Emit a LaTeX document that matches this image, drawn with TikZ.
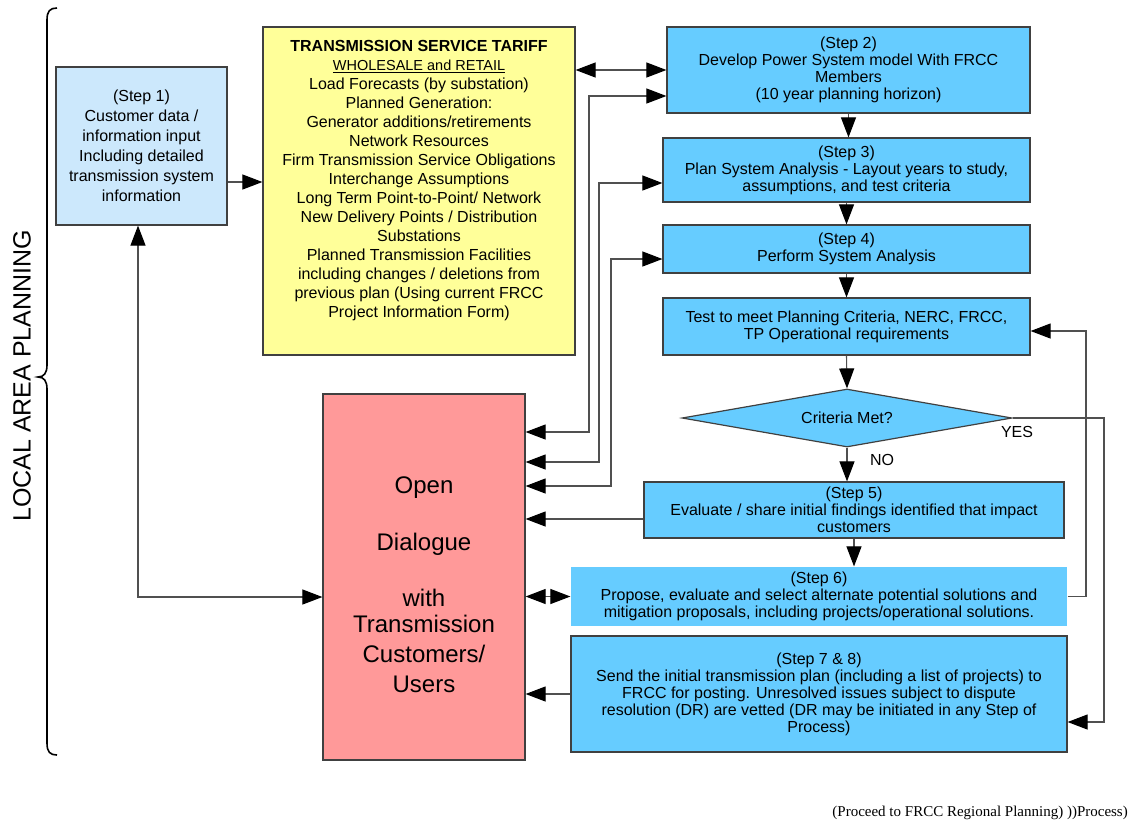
\documentclass[tikz,border=0pt]{standalone}
\usepackage{fontspec}
\setmainfont{Liberation Sans}
\newfontfamily\notefont{Liberation Serif}
\usetikzlibrary{arrows.meta}
\usetikzlibrary{shapes.geometric, arrows}
\definecolor{inputblue}{RGB}{204,232,252}
\definecolor{tariffyellow}{RGB}{255,255,153}
\definecolor{stepblue}{RGB}{102,204,255}
\definecolor{talkred}{RGB}{255,153,153}
\definecolor{edgegrey}{RGB}{64,64,64}
\definecolor{linegrey}{RGB}{80,80,80}
\tikzstyle{inputbox} = [rectangle, minimum width=171pt, minimum height=158pt, inner sep=0pt, align=center, draw=edgegrey, line width=1.2pt, fill=inputblue, font=\fontsize{16}{20}\selectfont]
\tikzstyle{tariffbox} = [rectangle, minimum width=312pt, minimum height=328pt, inner sep=0pt, align=center, draw=edgegrey, line width=1.2pt, fill=tariffyellow, font=\fontsize{16}{19}\selectfont]
\tikzstyle{process} = [rectangle, inner sep=0pt, align=center, draw=edgegrey, line width=1.2pt, fill=stepblue, font=\fontsize{16}{17}\selectfont]
\tikzstyle{decision} = [diamond, aspect=5.7, minimum width=330pt, minimum height=58pt, inner sep=0pt, draw=edgegrey, line width=1.2pt, fill=stepblue, font=\fontsize{16}{17}\selectfont]
\tikzstyle{talkbox} = [rectangle, minimum width=202pt, minimum height=366pt, inner sep=0pt, align=center, draw=edgegrey, line width=1.2pt, fill=talkred, font=\fontsize{24}{30}\selectfont]
\tikzstyle{tag} = [inner sep=0pt, font=\fontsize{16}{17}\selectfont]
\tikzstyle{arrow} = [line width=1.1pt, draw=linegrey, ->, >={Triangle[length=20pt,width=15pt,color=black]}]
\tikzstyle{twoway} = [arrow, <->]

\begin{document}
\begin{tikzpicture}[x=1pt, y=-1pt]
\useasboundingbox (0,0) rectangle (1132,823);
\draw[line width=1.6pt] (57,8) .. controls (50,8) and (47,11) .. (47,20) -- (47,365) .. controls (47,373) and (44,377) .. (38,377) .. controls (44,377) and (47,381) .. (47,389) -- (47,743) .. controls (47,752) and (50,755) .. (57,755);
\node (area) [rotate=90, inner sep=0pt, font=\fontsize{25}{30}\selectfont] at (22,376) {LOCAL AREA PLANNING};

\node (step1) [inputbox] at (141.5,146) {(Step 1)\\Customer data /\\information input\\Including detailed\\transmission system\\information};
\node (tariff) [tariffbox] at (419,191) {\textbf{TRANSMISSION SERVICE TARIFF}\\{\fontsize{14.5}{19}\selectfont\underline{WHOLESALE and RETAIL}}\\Load Forecasts (by substation)\\Planned Generation:\\Generator additions/retirements\\Network Resources\\Firm Transmission Service Obligations\\Interchange Assumptions\\Long Term Point-to-Point/ Network\\New Delivery Points / Distribution\\Substations\\Planned Transmission Facilities\\including changes / deletions from\\previous plan (Using current FRCC\\Project Information Form)\\[5pt]\mbox{}};
\node (step2) [process, minimum width=363pt, minimum height=86pt] at (848.5,70) {(Step 2)\\Develop Power System model With FRCC\\Members\\(10 year planning horizon)};
\node (step3) [process, minimum width=367pt, minimum height=64pt] at (846.5,170) {(Step 3)\\Plan System Analysis - Layout years to study,\\assumptions, and test criteria};
\node (step4) [process, minimum width=367pt, minimum height=48pt] at (846.5,249) {(Step 4)\\Perform System Analysis};
\node (test) [process, minimum width=367pt, minimum height=57pt] at (846.5,326.5) {Test to meet Planning Criteria, NERC, FRCC,\\TP Operational requirements};
\node (crit) [decision] at (847,418) {Criteria Met?};
\node (step5) [process, minimum width=420pt, minimum height=56pt] at (854,510) {(Step 5)\\Evaluate / share initial findings identified that impact\\customers};
\node (step6) [process, draw=none, minimum width=496pt, minimum height=59pt] at (819,596.5) {(Step 6)\\Propose, evaluate and select alternate potential solutions and\\mitigation proposals, including projects/operational solutions.};
\node (step7) [process, minimum width=496pt, minimum height=116pt] at (819,694) {(Step 7 \& 8)\\Send the initial transmission plan (including a list of projects) to\\FRCC for posting.  Unresolved issues subject to dispute\\resolution (DR) are vetted (DR may be initiated in any Step of\\Process)};
\node (talk) [talkbox] at (424,577) {\mbox{}\\[2pt]Open\\[27pt]Dialogue\\[26pt]with\\[-4pt]Transmission\\Customers/\\Users};
\node (yes) [tag] at (1017,432) {YES};
\node (no) [tag] at (882,460) {NO};
\node (next) [anchor=east, inner sep=0pt, font=\notefont\fontsize{15}{17}\selectfont] at (1128,813) {(Proceed to FRCC Regional Planning) ))Process)};

\draw [arrow] (step1.east |- 0,182) -- (tariff.west |- 0,182);
\draw [twoway] (tariff.east |- step2.west) -- (step2.west);
\draw [arrow] (step2.south) -- (step2.south |- step3.north);
\draw [arrow] (step3.south) -- (step4.north);
\draw [arrow] (step4.south) -- (test.north);
\draw [arrow] (test.south) -- (crit.north);
\draw [arrow] (crit.south) -- (crit.south |- step5.north);
\draw [arrow] (step5.south) -- (step5.south |- step6.north);
\draw [twoway] (talk.east |- 0,432) -| (589,96) -- (step2.west |- 0,96);
\draw [twoway] (talk.east |- 0,462) -| (599,183) -- (step3.west |- 0,183);
\draw [twoway] (talk.east |- 0,486) -| (611,259) -- (step4.west |- 0,259);
\draw [arrow] (step5.west |- 0,519) -- (talk.east |- 0,519);
\draw [twoway] (talk.east |- step6.west) -- (step6.west);
\draw [arrow] (step7.west) -- (talk.east |- step7.west);
\draw [twoway] (step1.south -| 138,0) |- (talk.west |- 0,597);
\draw [arrow] (step6.east) -| (1086,331) -- (test.east |- 0,331);
\draw [arrow] (crit.east) -| (1104,722) -- (step7.east |- 0,722);
\end{tikzpicture}
\end{document}
